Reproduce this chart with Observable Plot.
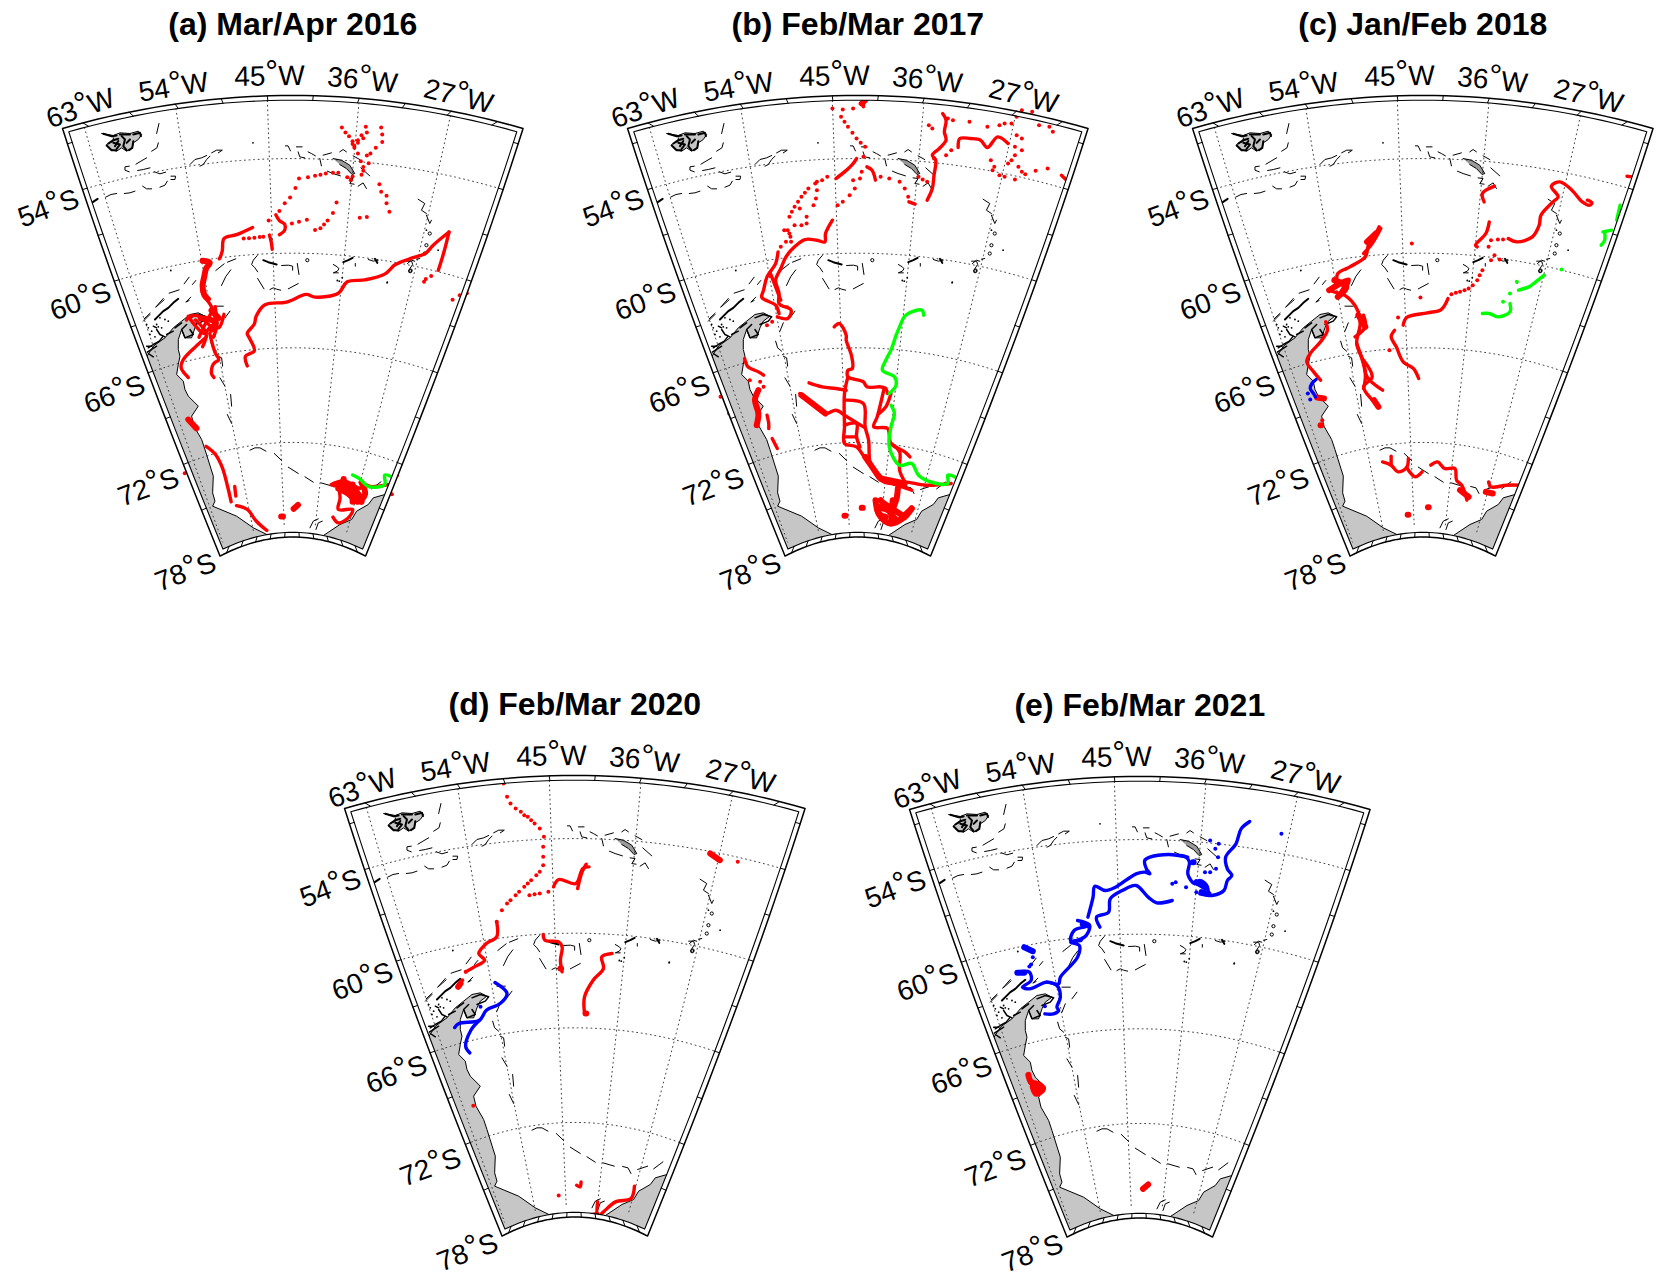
<!DOCTYPE html>
<html><head><meta charset="utf-8">
<script src="https://cdn.jsdelivr.net/npm/d3@7"></script>
<script src="https://cdn.jsdelivr.net/npm/@observablehq/plot@0.6"></script>
<style>html,body{margin:0;background:#fff}#page{position:relative;width:1664px;height:1287px;overflow:hidden;background:#fff}#page svg{position:absolute}</style>
</head><body><div id="page"></div>
<script>
// ---- map grid ----
const lonTicks=[-63,-54,-45,-36,-27], latTicks=[-54,-60,-66,-72,-78];
const lonLabels=["63°W","54°W","45°W","36°W","27°W"], latLabels=["54°S","60°S","66°S","72°S","78°S"];
const titles=["(a) Mar/Apr 2016","(b) Feb/Mar 2017","(c) Jan/Feb 2018","(d) Feb/Mar 2020","(e) Feb/Mar 2021"];
// panel origin on the page
const origins=[[61.7,128],[627.1,128.3],[1192,128.3],[344.4,808.3],[909.2,809]];
// readings of the picture: [x offset, y offset, x divisor, y divisor] of each source sheet
const sheet={z6:[-11.7,-18,3,3],z7:[68.3,212,3,3],z8:[-4.2,-9,3,3],z9:[60.8,121,3,3],z10:[215.6,6.7,3,3],z11:[170.8,91,3,3],z12:[90.8,231,3,3],
 a:[-61.7,-128,2.8,2.613],b:[-67.1,-68.3,2.904,3],c:[-82,-68.3,2.904,3],d:[-54.4,-68.3,2.904,3],e:[-59.2,-69,2.904,3]};
const rd=(s,p)=>[p[0]/sheet[s][2]+sheet[s][0],p[1]/sheet[s][3]+sheet[s][1]];

// ---- coast ----
const coastUpper=[[70,322],[90,290],[125,265],[150,235],[175,215],[200,195],[225,190],[245,200],[225,215],[215,235],[205,265],[185,265],[175,240],[165,270],[165,300],[170,320],[165,345],[160,375],[180,395],[185,420],[195,440],[225,470],[205,500],[212,530],[235,570]];
const coastLower=[[155,270],[180,350],[178,400],[185,425],[178,440],[250,470],[300,505],[365,537]];
const coastRight=[[497,537],[530,515],[560,495],[595,480],[610,455],[645,435],[660,415],[695,405]];
const falkland=[[130,42],[165,48],[185,40],[215,42],[240,35],[250,45],[240,60],[225,70],[222,85],[205,95],[190,85],[175,95],[155,90],[145,75],[165,65],[165,55]];
const georgia=[[165,70],[190,75],[215,90],[230,115],[222,118],[205,100],[185,88]];
const baseZ8=[[[302,12],[295,42]],[[300,70],[296,85],[280,95]],[[265,115],[248,125],[233,134]],[[213,140],[200,142],[200,152],[213,157]],[[275,145],[255,150],[238,153]],[[288,157],[305,163],[322,158]],[[338,170],[352,170],[350,180],[338,180]],[[327,185],[320,197],[305,203]],[[253,200],[265,208],[280,208]],[[230,215],[215,220],[198,222]],[[175,222],[158,225],[142,233]],[[395,135],[410,120],[430,115],[445,108]],[[425,140],[435,135],[445,120],[455,110]],[[460,100],[475,92],[492,92],[480,100]]];
const thickZ8=[[[100,250],[118,238]],[[135,43],[160,50],[175,48]],[[150,72],[165,62],[180,58]],[[145,78],[160,92],[175,92]],[[165,70],[185,75],[175,88]],[[190,50],[200,60],[195,80],[205,92]],[[185,45],[215,45]],[[225,45],[245,40],[248,50]],[[225,65],[222,85],[212,92]],[[205,70],[215,60]],[[180,65],[170,80]]];
const baseZ11=[[[72,108],[60,122],[55,135],[65,145],[73,157]],[[145,138],[165,137],[178,140],[178,152]],[[192,132],[197,165]],[[73,177],[92,208]],[[110,210],[120,205],[130,209],[142,212]],[[165,208],[195,192]],[[366,132],[366,140]],[[300,135],[312,142],[317,148],[312,155],[300,160],[315,160]],[[405,120],[420,125],[435,122]],[[520,125],[535,125],[538,135],[528,150]]];
const thickZ11=[[[90,122],[105,128],[130,135]],[[330,128],[345,122],[358,115]],[[425,118],[432,130]]];
const ringsZ11=[[222,122],[532,153]], dotsZ11=[[312,183],[327,175],[318,185],[462,188]];
const baseZ10=[[[22,32],[30,32],[37,47]],[[55,35],[72,35]],[[60,50],[65,65],[80,68]],[[90,50],[100,55],[112,62]],[[125,70],[130,92]],[[135,60],[160,53]],[[185,50],[195,43],[205,50]],[[225,62],[245,73]],[[248,98],[275,122]],[[148,108],[165,115],[187,122]],[[210,128],[225,130],[215,145],[228,147]],[[240,153],[255,143],[265,160]],[[420,192],[440,205],[430,225],[445,235]],[[445,240],[455,265],[460,255]],[[415,372],[425,370]],[[388,385],[400,375],[410,378]]];
const ringsZ10=[[455,295],[445,330],[440,355],[396,408]], dotsZ10=[[445,285],[480,345],[327,443]];
const baseZ9=[[[120,147],[98,172]],[[60,215],[80,195]],[[300,170],[275,170]],[[320,185],[305,205]],[[285,220],[275,245]],[[262,275],[268,295],[280,305]],[[285,320],[295,325],[298,350]],[[290,385],[305,410]],[[322,435],[325,470]],[[312,495],[325,522]]];
const thickZ9=[[[165,148],[150,160],[135,175],[120,185],[105,200],[95,210]]];
const midZ9=[[[200,205],[225,195],[250,202],[240,215],[215,225]],[[200,240],[210,255],[185,265],[175,240],[190,225]],[[100,240],[110,255],[125,262]],[[75,295],[90,285],[108,275],[118,262]],[[72,308],[85,300],[100,290]],[[75,312],[90,322]],[[70,290],[85,290]],[[90,230],[100,235]],[[155,235],[175,220]],[[130,255],[150,245]]];
const dotsZ9=[[75,235],[85,245],[100,225],[110,205],[125,210],[135,215],[95,262],[105,232],[70,225],[80,255],[115,235]];
const baseZ6=[[[555,445],[530,455]],[[520,460],[495,480]],[[540,478],[525,498],[512,525]],[[415,500],[400,520]],[[385,538],[355,548]],[[435,510],[425,522]],[[340,568],[315,590]],[[420,560],[405,575],[415,570]],[[298,608],[280,625]]];
const baseZ12=[[[290,272],[305,265],[320,265],[338,275]],[[363,282],[385,303]],[[405,323],[435,342]],[[455,352],[480,368]],[[503,370],[537,380]],[[562,381],[578,385],[587,402]],[[607,390],[637,380]],[[655,388],[683,367]],[[470,505],[480,485],[495,478]],[[488,510],[495,490],[507,485]],[[420,532],[445,530],[462,525]],[[480,525],[485,535]]];

// ---- tracks, panel (a) ----
const aRedDots=[[955,332],[965,345],[975,355],[985,368],[990,385],[1000,400],[1008,420],[1015,435],[1022,330],[1025,345],[1015,360],[1000,372],[990,380],[985,375],[1000,365],[1010,352],[1065,332],[1068,350],[1068,370],[1050,385],[1035,400],[1025,405],[1030,425],[1015,445],[1010,455],[985,460],[980,470],[835,465],[860,462],[880,458],[895,455],[910,452],[930,450],[945,450],[970,462],[825,490],[810,515],[795,530],[780,550],[750,575],[815,583],[835,578],[857,573],[940,528],[930,555],[915,575],[905,585],[895,595],[880,600],[1005,568],[1025,566],[1060,480],[1065,500],[1080,510],[1080,530],[1088,552],[680,622],[695,621],[710,620],[725,618],[735,617],[1205,720],[1185,735],[1190,728],[1265,782],[1285,770],[1110,1240],[1095,1290],[1305,765],[515,1235]];
const aRedLines=[[[705,593],[660,612],[625,622],[620,655],[612,675]],[[752,613],[757,630],[760,650]],[[770,560],[780,575],[795,585],[795,600],[780,612]],[[575,780],[590,800],[600,830],[590,850],[555,825],[530,825],[520,835]],[[525,825],[545,850],[570,870],[590,850],[610,855],[625,820]],[[600,800],[605,850],[595,880]],[[545,835],[575,870],[565,905]],[[585,870],[600,920],[610,935]],[[575,880],[545,905],[510,940],[505,960],[525,985]],[[610,940],[595,950],[590,975],[597,985]],[[590,815],[570,850],[555,880]],[[690,955],[685,930],[710,915],[695,880],[690,870],[710,845],[715,825],[740,795],[800,788],[855,768],[880,775],[945,765],[970,735],[1020,730],[1075,715],[1105,690],[1145,675],[1190,660],[1210,640],[1255,605]],[[1255,605],[1240,660],[1225,705]],[[575,1165],[600,1185],[620,1220],[635,1270],[645,1310]],[[655,1270],[658,1295]],[[660,1320],[690,1330],[715,1360],[745,1385]],[[925,1265],[960,1255],[985,1265],[1005,1275],[1020,1265],[1035,1270],[1085,1265]],[[945,1270],[950,1300],[945,1330],[985,1330],[975,1350],[945,1365],[930,1350]]];
const aRedBlobs=[[[565,680],[585,685],[575,700],[570,720],[565,745],[570,770],[580,780]],[[525,1095],[548,1118]],[[785,1348],[790,1348]],[[820,1328],[832,1318]],[[945,1275],[975,1290],[1000,1310],[1020,1290],[1010,1260]],[[960,1250],[965,1280],[990,1300]],[[935,1265],[985,1275],[1005,1295]],[[960,1260],[1010,1310]],[[985,1265],[985,1310]],[[560,830],[600,840],[590,860]],[[590,810],[610,830]]];
const aGreenLines=[[[985,1240],[1005,1250],[1030,1270],[1075,1265],[1075,1240],[1095,1245]]];

// ---- tracks, panel (b) ----
const bRedDots=[[790,145],[820,148],[850,145],[815,170],[835,200],[860,235],[885,260],[880,290],[825,185],[848,218],[872,248],[775,350],[745,365],[720,385],[700,410],[680,440],[665,470],[650,510],[665,520],[670,545],[640,560],[735,435],[742,415],[745,390],[740,370],[695,445],[715,470],[715,490],[700,495],[680,495],[660,510],[668,530],[655,545],[875,335],[870,355],[855,385],[840,405],[820,425],[805,435],[850,360],[930,350],[955,355],[985,365],[1000,385],[1010,410],[1040,350],[1052,358],[1065,365],[1125,175],[1140,180],[1070,195],[1080,205],[1188,185],[1085,295],[1120,285],[1135,270],[1240,200],[1275,195],[1290,190],[1310,190],[1325,170],[1340,150],[1370,155],[1390,195],[1420,200],[1430,215],[1385,175],[1325,225],[1340,235],[1320,260],[1340,270],[1320,285],[1330,320],[1340,335],[1310,300],[1250,300],[1260,320],[1275,345],[1290,350],[1255,330],[1300,310],[1320,358],[1350,342],[1380,332],[1415,325],[600,795],[615,785],[550,960],[580,965],[590,980],[465,1010],[490,1060],[760,360],[710,398],[690,425],[672,455]];
const bRedLines=[[[880,140],[880,120]],[[860,295],[850,310],[825,335],[800,355]],[[790,480],[770,520],[768,545],[745,540],[710,538],[680,560],[655,590],[640,625],[625,660],[635,700],[635,730],[670,750],[660,775],[630,770]],[[632,575],[625,610],[600,650],[590,690],[585,712],[625,735],[635,760]],[[610,640],[625,680],[640,720]],[[890,320],[905,330],[915,360]],[[1012,425],[1030,432]],[[1110,160],[1120,180],[1115,215],[1120,240],[1100,265],[1080,285],[1090,300],[1085,345],[1080,385],[1065,420]],[[1155,262],[1160,235],[1190,235],[1220,240],[1240,262],[1270,230],[1300,250]],[[1455,345],[1470,360]],[[795,800],[810,790],[830,825],[830,840],[845,885],[848,925],[835,930],[835,950],[880,965],[890,980],[930,980],[945,985],[950,1000]],[[835,950],[825,1000],[825,1100],[825,1150],[860,1160],[885,1195],[900,1215],[930,1260],[960,1270],[1000,1265],[1060,1275],[1135,1270]],[[722,968],[760,980],[800,985],[830,990]],[[695,1000],[730,1030],[770,1060],[800,1050],[825,1065]],[[825,1020],[880,1030],[885,1100],[895,1140],[900,1210],[925,1250]],[[825,1095],[860,1090],[860,1130],[870,1160]],[[825,1130],[860,1130]],[[825,1065],[880,1100]],[[940,985],[920,1070],[910,1100],[950,1105],[960,1150],[1000,1175],[1015,1190]],[[960,1150],[985,1175],[985,1230],[1000,1265]],[[960,1000],[945,1040],[925,1060]],[[950,1265],[1020,1290]],[[900,1215],[945,1265]],[[535,895],[545,920],[575,935],[590,945]],[[600,1065],[605,1090],[605,1105]],[[615,1135],[630,1165]]];
const bRedBlobs=[[[875,130],[885,120]],[[980,1285],[975,1320],[960,1350],[920,1340],[930,1370],[960,1390],[1000,1370],[1020,1345]],[[965,1320],[960,1390]],[[930,1320],[975,1380]],[[915,1320],[925,1360],[945,1370]],[[940,1330],[1000,1370]],[[1020,1345],[985,1380]],[[875,1343],[878,1343]],[[825,1367],[828,1367]],[[575,990],[565,1020],[575,1060],[570,1095]],[[930,1255],[1000,1270]],[[885,1190],[925,1250]],[[700,1005],[770,1060]]];
const bGreenLines=[[[1055,765],[1050,750],[1020,755],[1000,768],[985,800],[975,825],[960,870],[945,900],[935,930],[970,950],[975,975],[955,1000]],[[960,1035],[970,1060],[960,1100],[955,1160],[985,1215],[1020,1210],[1040,1245],[1075,1265],[1125,1270],[1125,1245],[1145,1250]]];

// ---- tracks, panel (c) ----
const cRedDots=[[1130,598],[1105,600],[1080,630],[1065,660],[1040,685],[1015,695],[990,702],[835,772],[875,550],[900,712],[810,870],[1140,538],[1125,538],[1105,540],[1098,560],[1115,585],[615,1080],[1072,645],[1052,675],[1028,690],[1003,698]];
const cRedLines=[[[1500,348],[1515,350]],[[1115,378],[1080,400],[1085,425]],[[1100,485],[1090,520],[1060,555],[1065,560]],[[1155,535],[1180,545],[1225,530],[1245,495],[1250,465],[1285,425],[1300,410],[1280,378],[1305,365],[1340,390],[1370,425],[1392,435],[1398,428],[1385,420]],[[980,715],[960,748],[920,758],[860,772],[850,795]],[[825,810],[815,830],[830,860],[850,905],[880,925],[895,955]],[[780,500],[770,520],[750,550],[740,590],[695,620],[660,640],[655,670],[640,690],[680,705],[715,745],[725,790],[715,850],[735,905],[745,950],[790,990]],[[785,505],[760,550],[735,580]],[[735,765],[740,800],[710,830]],[[735,900],[760,950],[735,980],[760,1020],[778,1040]],[[715,850],[740,940],[735,985]],[[625,785],[630,810],[610,845],[580,880],[570,905],[590,935],[610,960]],[[790,1205],[815,1215],[835,1235],[860,1222],[865,1195]],[[815,1188],[815,1215]],[[860,1222],[885,1250],[905,1235]],[[930,1215],[950,1205],[970,1225],[1000,1225],[1005,1260],[1020,1275],[1030,1300],[1035,1320]],[[1098,1265],[1105,1280],[1150,1275],[1190,1275]]];
const cRedBlobs=[[[635,690],[690,660],[670,700]],[[650,660],[685,680],[660,710]],[[600,1012],[620,1015]],[[610,1095],[612,1095]],[[1015,1290],[1040,1310]],[[1090,1295],[1110,1300]],[[922,1341],[924,1341]],[[863,1364],[865,1364]],[[745,545],[770,520]],[[720,765],[740,800]],[[765,1020],[778,1040]]];
const cGreenDots=[[1310,628],[1180,665],[1160,700],[1140,725]];
const cGreenLines=[[[1480,435],[1470,480]],[[1430,515],[1455,510]],[[1435,515],[1435,540],[1425,555]],[[1260,645],[1235,665],[1215,680],[1185,690]],[[1160,730],[1160,755],[1125,770],[1100,760],[1080,760]]];
const cBlueDots=[[573,1000],[580,1018]];
const cBlueLines=[[[597,958],[585,970],[580,985],[590,1000],[595,1010]]];

// ---- tracks, panel (d) ----
const dRedDots=[[620,130],[630,170],[655,205],[690,230],[725,265],[737,290],[735,320],[735,350],[735,375],[715,405],[690,430],[665,455],[640,480],[615,510],[600,545],[695,465],[725,460],[750,455],[710,462],[510,695],[500,720],[1300,365],[780,1366],[532,1097],[640,190],[670,215],[680,225],[700,240],[710,250],[725,395],[700,420],[680,440],[655,465],[630,490]];
const dRedLines=[[[600,545],[600,590],[570,610],[548,640],[565,660],[535,680],[510,695]],[[765,440],[780,418],[830,430],[850,385],[868,380]],[[835,445],[848,395],[860,372]],[[735,583],[740,600],[780,605],[790,620],[785,660],[790,695]],[[935,640],[905,650],[910,685],[880,720],[855,770],[855,820]],[[1000,1338],[990,1375],[945,1385],[910,1415],[893,1430],[893,1385]],[[870,1425],[893,1420]],[[832,1335],[842,1340],[845,1325]]];
const dRedBlobs=[[[1220,340],[1248,360]],[[785,685],[787,685]],[[858,820],[860,820]],[[488,740],[495,730]]];
const dBlueDots=[[553,800]];
const dBlueLines=[[[595,727],[630,760],[610,790],[570,810],[550,840],[490,850],[478,862]],[[550,840],[525,870],[510,920],[522,938]]];

// ---- tracks, panel (e) ----
const eBlueDots=[[1252,280],[1045,300],[1070,310],[1060,325],[1068,350],[1062,385],[1045,395],[1030,395],[1005,455],[975,440],[945,425],[935,430],[565,797],[530,650],[525,672],[520,678]];
const eBlueLines=[[[1160,243],[1135,265],[1120,310],[1090,350],[1095,385],[1108,405],[1095,420],[1085,450],[1050,465],[1015,460]],[[1040,465],[1035,435],[1015,420],[1000,430],[980,400],[985,365],[975,350],[960,345]],[[980,350],[925,342],[870,350],[855,360],[860,385],[870,400],[855,395],[830,400],[770,440],[740,450],[710,437],[705,470],[690,530]],[[935,480],[890,487],[865,470],[830,435],[790,450],[755,475],[750,515],[715,530],[725,560]],[[660,540],[695,555],[680,590],[640,600],[650,570],[680,560]],[[670,600],[640,605],[665,615],[660,650],[610,710],[605,730],[570,725],[520,745],[500,740],[525,720],[520,695],[485,695]],[[570,725],[600,735],[610,770],[600,800],[605,810],[590,820],[565,820]]];
const eBlueBlobs=[[[995,365],[997,365]],[[1005,425],[1030,440]],[[1020,455],[1040,460]],[[675,550],[690,555]],[[505,620],[530,632]],[[485,697],[505,697]]];
const eRedBlobs=[[[517,1003],[525,1025],[545,1030],[560,1045],[540,1060],[530,1040]],[[525,1025],[545,1050]],[[850,1345],[865,1332]]];

// ---- projection ----
const halfW=lat=>362.1*Math.cos(Math.abs(lat)*Math.PI/180)-2.5;
const edgeY=lat=>(Math.abs(lat)-50)*15.27;
const sag=lat=>33-(Math.abs(lat)-50)*0.5;
const PD=(d,lat)=>[230.3+d*halfW(lat),edgeY(lat)-sag(lat)*(1-d*d)];
const P=(lon,lat)=>PD((lon+42.5)/22.5,lat);
const inner=(d,lat)=>{const l=Math.max(50.3,Math.min(77.7,Math.abs(lat)));return PD(d*(1-4.8/halfW(l)),l);};

const ds=d3.range(-1,1.0001,0.05), las=d3.range(50,78.01,1);
const outerRing=[...ds.map(d=>PD(d,50)),...las.map(l=>PD(1,l)),...ds.slice().reverse().map(d=>PD(d,78)),...las.slice().reverse().map(l=>PD(-1,l))];
const innerRing=[...ds.map(d=>inner(d,50)),...las.map(l=>inner(1,l)),...ds.slice().reverse().map(d=>inner(d,78)),...las.slice().reverse().map(l=>inner(-1,l))];
const bandFill=[...outerRing,outerRing[0],innerRing[0],...innerRing.slice().reverse()];
const tickLons=d3.range(-63,-20,4.5), tickLats=d3.range(51,78,3);
const ticks=[];
tickLons.forEach(lon=>{const d=(lon+42.5)/22.5;ticks.push([PD(d,50),inner(d,50)]);ticks.push([PD(d,78),inner(d,78)]);});
tickLats.forEach(l=>{ticks.push([PD(-1,l),inner(-1,l)]);ticks.push([PD(1,l),inner(1,l)]);});
const grat=[];
lonTicks.forEach(lon=>grat.push(d3.range(50.3,77.8,.5).map(l=>P(lon,-l))));
latTicks.slice(0,4).forEach(lat=>grat.push(d3.range(-64.6,-20.3,.5).map(lon=>P(lon,lat))));

// land polygons
const sideLats=d3.range(65,78.01,1);
const c1=[...coastUpper.map(p=>rd("z9",p)),...coastLower.map(p=>rd("z12",p))];
const dLeft=(c1[c1.length-1][0]-230.3)/halfW(78);
const landL=[...c1,...d3.range(dLeft,-1,-.05).map(d=>PD(d,78)),...sideLats.slice().reverse().map(l=>PD(-1,l))];
const c2=coastRight.map(p=>rd("z12",p));
const dRight=(c2[0][0]-230.3)/halfW(78);
const landR=[...c2,...d3.range(74,78.01,1).map(l=>PD(1,l)),...d3.range(1,dRight,-.05).map(d=>PD(d,78))];
const falk=falkland.map(p=>rd("z8",p)), geo=georgia.map(p=>rd("z10",p));

const rows=(ls,f)=>ls.flatMap((l,i)=>l.map(p=>{const q=f?f(p):p;return {x:q[0],y:q[1],k:i};}));
const cv=s=>ss=>ss.map(l=>l.map(p=>rd(s,p)));
const thin=[...cv("z8")(baseZ8),...cv("z11")(baseZ11),...cv("z10")(baseZ10),...cv("z9")(baseZ9),...cv("z6")(baseZ6),...cv("z12")(baseZ12),c1,c2,falk,geo];
const thick=[...cv("z8")(thickZ8),...cv("z11")(thickZ11),...cv("z9")(thickZ9)];
const mid=cv("z9")(midZ9);
const rings=[...ringsZ11.map(p=>rd("z11",p)),...ringsZ10.map(p=>rd("z10",p))];
const specks=[...dotsZ11.map(p=>rd("z11",p)),...dotsZ10.map(p=>rd("z10",p)),...dotsZ9.map(p=>rd("z9",p)),rd("z8",[584,70]),rd("z6",[360,480])];

const lonPos=[[18,-20,-19],[111,-41,-9],[207,-52,-1],[300,-48,6],[396,-32,14]];
const latPos=[[-14,80,-20],[18,173,-20],[52,266,-20],[86,359,-20],[123,444,-20]];
const labels=[...lonLabels.map((t,i)=>({t,x:lonPos[i][0],y:lonPos[i][1],r:lonPos[i][2]})),...latLabels.map((t,i)=>({t,x:latPos[i][0],y:latPos[i][1],r:latPos[i][2]}))];

const panels=[
 {s:"a",red:[aRedLines,aRedDots,aRedBlobs],green:[aGreenLines,[],[]],blue:[[],[],[]]},
 {s:"b",red:[bRedLines,bRedDots,bRedBlobs],green:[bGreenLines,[],[]],blue:[[],[],[]]},
 {s:"c",red:[cRedLines,cRedDots,cRedBlobs],green:[cGreenLines,cGreenDots,[]],blue:[cBlueLines,cBlueDots,[]]},
 {s:"d",red:[dRedLines,dRedDots,dRedBlobs],green:[[],[],[]],blue:[dBlueLines,dBlueDots,[]]},
 {s:"e",red:[[],[],eRedBlobs],green:[[],[],[]],blue:[eBlueLines,eBlueDots,eBlueBlobs]}
];
const M=[40,128,560,590];
panels.forEach((p,i)=>{
 const f=q=>rd(p.s,q), track=[];
 [["#ff0000",p.red],["#00ff00",p.green],["#0000ff",p.blue]].forEach(([col,g])=>{
  if(g[0].length)track.push(Plot.line(rows(g[0],f),{x:"x",y:"y",z:"k",stroke:col,strokeWidth:3.4,strokeLinejoin:"round",strokeLinecap:"round",curve:"catmull-rom"}));
  if(g[2].length)track.push(Plot.line(rows(g[2],f),{x:"x",y:"y",z:"k",stroke:col,strokeWidth:6,strokeLinejoin:"round",strokeLinecap:"round",curve:"catmull-rom"}));
  if(g[1].length)track.push(Plot.dot(g[1].map(f),{x:d=>d[0],y:d=>d[1],r:2,fill:col}));
 });
 const svg=Plot.plot({width:M[2],height:M[3],margin:0,marginTop:0,marginBottom:0,marginLeft:0,marginRight:0,
  x:{axis:null,domain:[-M[0],M[2]-M[0]],range:[0,M[2]]},y:{axis:null,domain:[-M[1],M[3]-M[1]],range:[0,M[3]]},
  style:{background:"transparent",overflow:"visible",fontFamily:"'Liberation Sans',Arial,sans-serif",maxWidth:"none"},
  marks:[
   Plot.line(landL,{x:d=>d[0],y:d=>d[1],fill:"#c6c6c6",stroke:"none"}),
   Plot.line(landR,{x:d=>d[0],y:d=>d[1],fill:"#c6c6c6",stroke:"none"}),
   Plot.line(falk,{x:d=>d[0],y:d=>d[1],fill:"#c6c6c6",stroke:"none"}),
   Plot.line(geo,{x:d=>d[0],y:d=>d[1],fill:"#999",stroke:"none"}),
   Plot.line(rows(grat),{x:"x",y:"y",z:"k",stroke:"#444",strokeWidth:1,strokeDasharray:"1 3.6"}),
   Plot.line(rows(thin),{x:"x",y:"y",z:"k",stroke:"#000",strokeWidth:1}),
   Plot.line(rows(mid),{x:"x",y:"y",z:"k",stroke:"#000",strokeWidth:1.5}),
   Plot.line(rows(thick),{x:"x",y:"y",z:"k",stroke:"#000",strokeWidth:2}),
   Plot.dot(rings,{x:d=>d[0],y:d=>d[1],r:1.6,stroke:"#000",strokeWidth:1,fill:"none"}),
   Plot.dot(specks,{x:d=>d[0],y:d=>d[1],r:.9,fill:"#000"}),
   ...track,
   Plot.line(bandFill,{x:d=>d[0],y:d=>d[1],fill:"#fff",stroke:"none"}),
   Plot.line(rows([[...outerRing,outerRing[0]]]),{x:"x",y:"y",z:"k",stroke:"#000",strokeWidth:1.5}),
   Plot.line(rows([[...innerRing,innerRing[0]]]),{x:"x",y:"y",z:"k",stroke:"#000",strokeWidth:1.1}),
   Plot.line(rows(ticks),{x:"x",y:"y",z:"k",stroke:"#000",strokeWidth:1}),
   Plot.text(labels,{x:"x",y:"y",text:"t",rotate:"r",fontSize:28,fill:"#000",textAnchor:"middle"}),
   Plot.text([titles[i]],{x:[230.3],y:[-104],text:d=>d,fontSize:32,fontWeight:"bold",fill:"#000",textAnchor:"middle"})
  ]});
 svg.style.left=(origins[i][0]-M[0])+"px";
 svg.style.top=(origins[i][1]-M[1])+"px";
 svg.querySelectorAll("text").forEach(t=>{
  const m=/^(\d+)°(.)$/.exec(t.textContent); if(!m)return;
  t.textContent="";
  const add=(s,a)=>{const e=document.createElementNS("http://www.w3.org/2000/svg","tspan");e.textContent=s;for(const k in a)e.setAttribute(k,a[k]);t.appendChild(e);};
  add(m[1],{}); add("°",{"font-size":32,dy:"-3"}); add(m[2],{dy:"3"});
 });
 document.getElementById("page").appendChild(svg);
});
</script></body></html>
